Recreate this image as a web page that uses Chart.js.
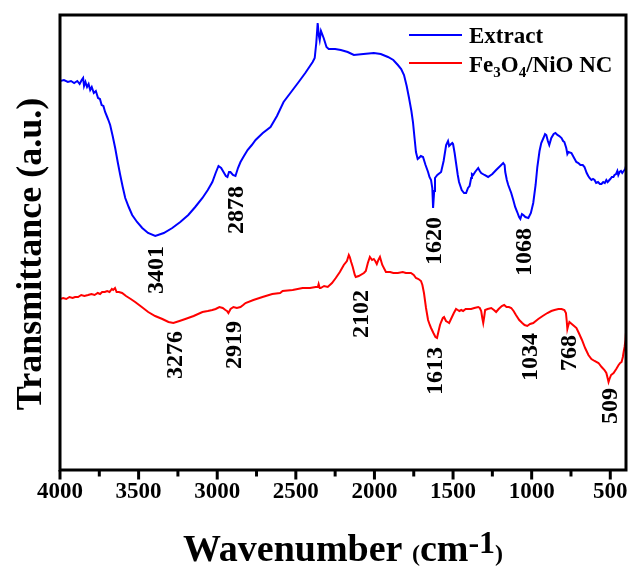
<!DOCTYPE html>
<html><head><meta charset="utf-8">
<script src="https://cdn.jsdelivr.net/npm/chart.js@4.4.1/dist/chart.umd.min.js"></script>
<style>html,body{margin:0;padding:0;background:#fff;}#wrap{width:629px;height:568px;}</style>
</head><body><div id="wrap"><canvas id="c" width="629" height="568"></canvas></div>
<script>
// ---------- DATA ----------
const extractWn = [4000,3975,3950,3930,3910,3890,3875,3862,3853,3847,3838,3828,3818,3808,3798,3785,3772,3758,3746,3735,3724,3713,3700,3690,3681,3665,3649,3633,3617,3601,3585,3563,3541,3510,3477,3440,3394,3340,3286,3235,3184,3140,3094,3060,3031,3010,2992,2975,2960,2945,2935,2925,2916,2900,2884,2868,2852,2830,2807,2780,2756,2710,2661,2620,2578,2530,2482,2440,2393,2380,2370,2361,2354,2348,2340,2335,2323,2305,2291,2250,2214,2170,2131,2070,2004,1960,1914,1880,1851,1830,1812,1795,1780,1765,1755,1745,1736,1725,1717,1705,1691,1675,1659,1650,1640,1632,1627,1620,1615,1600,1576,1560,1544,1532,1525,1519,1505,1500,1490,1481,1470,1462,1445,1430,1417,1405,1395,1391,1385,1380,1372,1360,1340,1330,1321,1300,1277,1250,1226,1200,1181,1172,1168,1158,1149,1130,1117,1105,1092,1080,1072,1062,1053,1040,1021,1005,990,975,964,950,939,925,915,907,897,888,875,860,849,836,824,810,800,792,780,773,766,747,730,716,703,690,675,664,650,640,632,620,610,600,590,578,566,556,545,535,525,517,511,500,490,480,473,463,455,449,441,432,424,415,405,400];
const extractT = [402,403,401,402,400,402,399,403,405,397,401,396,399,393,396,390,392,385,384,378,377,371,366,362,358,347,335,321,308,296,285,276,268,261,255,250,247,250,255,261,268,276,285,293,301,310,317,315,311,307,306,311,311,308,307,315,321,327,333,338,343,350,356,367,381,391,401,410,421,425,440,460,448,443,452,450,445,436,434,434,433,431,428,429,430,429,426,423,418,414,408,397,385,372,361,345,331,324,325,327,326,318,311,306,303,295,275,292,305,308,311,322,338,342,337,338,340,339,330,320,308,301,293,290,290,295,297,300,305,309,308,311,315,312,310,308,306,309,313,317,320,318,311,303,298,290,283,276,271,266,264,269,268,266,265,270,280,298,316,332,340,345,349,348,342,338,345,349,350,348,347,345,342,341,335,329,331,330,325,321,320,318,318,316,310,307,305,303,304,303,300,301,299,299,301,300,303,301,302,304,306,306,308,309,312,308,311,312,310,312,314,317];
const ncWn = [4000,3980,3960,3940,3920,3904,3885,3865,3845,3821,3800,3780,3760,3745,3732,3715,3700,3685,3670,3662,3650,3640,3625,3605,3580,3550,3522,3480,3439,3395,3349,3310,3279,3240,3203,3150,3094,3060,3031,3010,2986,2965,2948,2938,2929,2915,2897,2875,2852,2835,2820,2770,2712,2650,2600,2584,2520,2457,2410,2374,2360,2355,2348,2342,2320,2297,2270,2246,2220,2195,2175,2163,2157,2148,2138,2125,2119,2100,2067,2055,2042,2029,2015,2004,1995,1985,1975,1965,1950,1927,1900,1880,1851,1820,1800,1768,1750,1736,1720,1704,1695,1685,1672,1659,1648,1640,1625,1612,1602,1592,1583,1576,1565,1557,1545,1535,1525,1510,1495,1481,1470,1460,1448,1436,1420,1400,1385,1365,1340,1330,1321,1314,1308,1302,1296,1280,1257,1240,1226,1210,1190,1175,1160,1145,1130,1115,1100,1079,1060,1045,1028,1010,990,958,930,900,875,855,830,810,792,782,777,773,768,760,745,730,715,700,680,660,639,620,600,575,555,537,525,517,511,505,495,479,462,447,437,428,420,415,409,403,400];
const ncT = [184,185,184,186,185,186,186,188,187,188,189,188,190,189,191,191,192,191,194,193,195,191,191,190,187,184,181,176,171,167,164,161,160,162,164,167,171,172,173,174,176,175,173,172,170,174,176,175,176,178,180,183,186,189,190,192,193,195,195,196,196,199,195,195,197,196,200,205,211,218,222,228,226,221,216,208,206,207,210,212,220,226,223,224,222,219,223,226,218,211,211,210,210,211,210,210,208,205,204,202,198,190,175,163,158,155,150,146,145,152,158,161,165,166,162,161,160,165,170,174,173,172,173,172,174,174,174,175,176,175,172,165,160,166,173,174,175,173,171,174,177,178,176,176,175,172,168,163,160,158,157,159,160,164,167,170,172,173,174,174,173,170,162,154,157,161,159,157,155,150,143,135,128,124,122,120,116,113,110,105,101,104,108,110,114,118,120,121,126,131,136,143,151];
const xTickValues = [4000,3500,3000,2500,2000,1500,1000,500];
const peakLabels = ['3401','2878','1620','1068','3276','2919','2102','1613','1034','768','509'];
const seriesNames = ['Extract','Fe\u2083O\u2084/NiO NC'];
const yTitle = 'Transmittance (a.u.)';

// ---------- STYLE / LAYOUT ----------
const FONT = "'Liberation Serif','Times New Roman',serif";
const peakAnchor = [[3389,213],[2880,273],[1620,242],[1047,231],[3268,128],[2893,138],[2084,169],[1614,112],[1009,126],[767,130],[500,77]];

const pts = (xs, ys) => xs.map((v,i)=>({x:v,y:ys[i]}));

const decor = {
  id:'decor',
  afterDraw(chart){
    const {ctx, chartArea:a, scales:{x,y}} = chart;
    ctx.save();
    // frame
    ctx.strokeStyle='#000'; ctx.lineWidth=3;
    ctx.strokeRect(a.left, a.top, a.right-a.left, a.bottom-a.top);
    // ticks (major + minor midpoints)
    const ticks = [];
    xTickValues.forEach(v=>{ ticks.push([v,8]); if (v-250>=400) ticks.push([v-250,5]); });
    ticks.forEach(([v,len])=>{
      const px = x.getPixelForValue(v);
      ctx.beginPath(); ctx.moveTo(px, a.bottom); ctx.lineTo(px, a.bottom+1.5+len); ctx.stroke();
    });
    ctx.fillStyle='#000';
    // y title
    ctx.font = "bold 36px "+FONT;
    ctx.textAlign='center'; ctx.textBaseline='middle';
    ctx.save(); ctx.translate(32, 254); ctx.rotate(-Math.PI/2); ctx.fillText(yTitle,0,0); ctx.restore();
    // peak labels
    ctx.font = "bold 24px "+FONT;
    peakLabels.forEach((t,i)=>{
      const px = x.getPixelForValue(peakAnchor[i][0]);
      const py = y.getPixelForValue(peakAnchor[i][1]);
      ctx.save(); ctx.translate(px,py); ctx.rotate(-Math.PI/2); ctx.fillText(t,0,1); ctx.restore();
    });
    // x title with superscript
    ctx.textAlign='left'; ctx.textBaseline='alphabetic';
    const parts = [
      {t:'Wavenumber ', s:38, dy:0},
      {t:'(', s:24, dy:0},
      {t:'cm', s:38, dy:0},
      {t:'-1', s:32, dy:-8},
      {t:')', s:24, dy:0}
    ];
    let tw = 0;
    parts.forEach(p=>{ ctx.font='bold '+p.s+'px '+FONT; p.w=ctx.measureText(p.t).width; tw+=p.w; });
    let cx = (a.left+a.right)/2 - tw/2;
    const base = 561;
    parts.forEach(p=>{ ctx.font='bold '+p.s+'px '+FONT; ctx.fillText(p.t, cx, base+p.dy); cx+=p.w; });
    // legend
    const colors = ['#0000ff','#ff0000'];
    const rows = [35,63];
    ctx.lineWidth=2;
    rows.forEach((ry,i)=>{
      ctx.strokeStyle=colors[i];
      ctx.beginPath(); ctx.moveTo(409,ry); ctx.lineTo(462,ry); ctx.stroke();
    });
    ctx.fillStyle='#000';
    ctx.font='bold 23px '+FONT;
    ctx.fillText(seriesNames[0], 469, 43);
    let lx = 469;
    const seg = [['Fe',23,0],['3',15,5],['O',23,0],['4',15,5],['/NiO NC',23,0]];
    seg.forEach(([t,s,dy])=>{ ctx.font='bold '+s+'px '+FONT; ctx.fillText(t, lx, 72+dy); lx += ctx.measureText(t).width; });
    ctx.restore();
  }
};

new Chart(document.getElementById('c'), {
  type:'line',
  data:{ datasets:[
    {label:seriesNames[0], data:pts(extractWn, extractT), borderColor:'#0000ff', borderWidth:2, pointRadius:0, tension:0, fill:false},
    {label:seriesNames[1], data:pts(ncWn, ncT), borderColor:'#ff0000', borderWidth:2, pointRadius:0, tension:0, fill:false}
  ]},
  options:{
    responsive:false, animation:false, devicePixelRatio:1,
    layout:{padding:{top:15,right:3,left:0,bottom:0}},
    plugins:{legend:{display:false}, tooltip:{enabled:false}},
    scales:{
      x:{type:'linear', reverse:true, min:400, max:4000,
        afterBuildTicks:s=>{ s.ticks = xTickValues.map(v=>({value:v})); },
        afterFit:s=>{ s.height = 98; s.paddingLeft = 0; s.paddingRight = 0; },
        grid:{display:false, drawTicks:false}, border:{display:false},
        ticks:{autoSkip:false, maxRotation:0, padding:8, color:'#000', font:{family:FONT, size:23, weight:'bold'},
          callback:v=>String(v)}
      },
      y:{min:13, max:468,
        afterFit:s=>{ s.width = 60; },
        grid:{display:false, drawTicks:false}, border:{display:false},
        ticks:{display:false},
        title:{display:false, text:yTitle}
      }
    }
  },
  plugins:[decor]
});
</script></body></html>
